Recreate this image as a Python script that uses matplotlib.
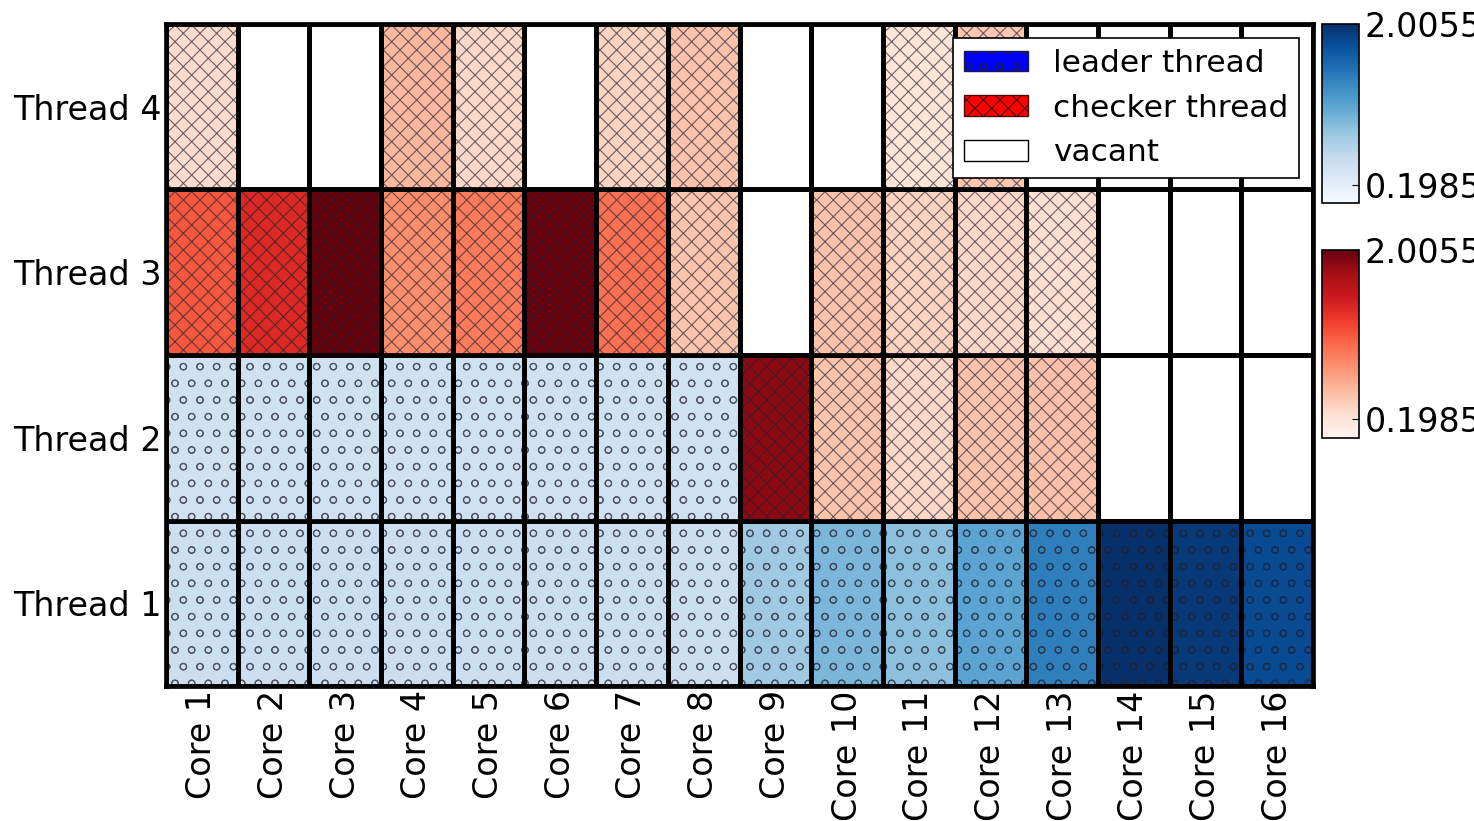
import numpy as np
import matplotlib
matplotlib.use("Agg")
import matplotlib.pyplot as plt
from matplotlib.colors import Normalize
from matplotlib.cm import ScalarMappable
from matplotlib.patches import Patch

nan = np.nan

cores = ["Core 1", "Core 2", "Core 3", "Core 4", "Core 5", "Core 6", "Core 7", "Core 8",
         "Core 9", "Core 10", "Core 11", "Core 12", "Core 13", "Core 14", "Core 15", "Core 16"]
threads = ["Thread 1", "Thread 2", "Thread 3", "Thread 4"]

# leader-thread load per core (NaN = no leader thread in that slot)
leader_t1 = [0.44, 0.44, 0.44, 0.44, 0.44, 0.44, 0.44, 0.44,
             0.75, 0.92, 0.84, 1.10, 1.40, 2.0055, 1.93, 1.80]
leader_t2 = [0.40, 0.40, 0.40, 0.40, 0.40, 0.40, 0.40, 0.40,
             nan, nan, nan, nan, nan, nan, nan, nan]
leader_t3 = [nan] * 16
leader_t4 = [nan] * 16

# checker-thread load per core (NaN = no checker thread in that slot)
checker_t1 = [nan] * 16
checker_t2 = [nan, nan, nan, nan, nan, nan, nan, nan,
              1.85, 0.44, 0.30, 0.45, 0.47, nan, nan, nan]
checker_t3 = [1.10, 1.38, 2.0055, 0.78, 0.90, 1.99, 0.96, 0.44,
              nan, 0.46, 0.34, 0.30, 0.26, nan, nan, nan]
checker_t4 = [0.28, nan, nan, 0.52, 0.30, nan, 0.34, 0.46,
              nan, nan, 0.1985, 0.42, nan, nan, nan, nan]

leader = [leader_t1, leader_t2, leader_t3, leader_t4]
checker = [checker_t1, checker_t2, checker_t3, checker_t4]

cbar_ticks = [0.1985, 2.0055]
norm = Normalize(vmin=0.0, vmax=2.0055)
blues = plt.get_cmap("Blues")
reds = plt.get_cmap("Reds")

plt.rcParams["hatch.linewidth"] = 0.8
FS = 24

fig = plt.figure(figsize=(14.74, 8.21), dpi=100)
ax = fig.add_axes([0.1126, 0.1644, 0.7782, 0.8064])

x = np.arange(len(cores))
hatch_col = (0.12, 0.12, 0.18, 0.65)

for row in range(len(threads)):
    for data, cmap, hatch in ((leader[row], blues, "o"), (checker[row], reds, "xx")):
        vals = np.asarray(data, dtype=float)
        idx = np.where(~np.isnan(vals))[0]
        if len(idx) == 0:
            continue
        ax.bar(x[idx], 1.0, bottom=row, width=1.0, align="edge",
               color=cmap(norm(vals[idx])), linewidth=0)
        ax.bar(x[idx], 1.0, bottom=row, width=1.0, align="edge",
               fill=False, hatch=hatch, edgecolor=hatch_col, linewidth=0)
    # cell borders for every slot, vacant ones included
    ax.bar(x, 1.0, bottom=row, width=1.0, align="edge",
           fill=False, edgecolor="black", linewidth=3.4)

ax.set_xlim(0, len(cores))
ax.set_ylim(0, len(threads))
ax.set_xticks(x + 0.5)
ax.set_xticklabels(cores, rotation=90, fontsize=FS)
ax.set_yticks(np.arange(len(threads)) + 0.5)
ax.set_yticklabels(threads, fontsize=FS)
ax.tick_params(length=0, pad=3)
for s in ax.spines.values():
    s.set_linewidth(3.4)

handles = [
    Patch(facecolor="blue", edgecolor=(0.1, 0.1, 0.3), hatch="o", linewidth=1, label="leader thread"),
    Patch(facecolor="red", edgecolor=(0.3, 0.05, 0.05), hatch="xx", linewidth=1, label="checker thread"),
    Patch(facecolor="white", edgecolor="black", linewidth=1, label="vacant"),
]
leg = ax.legend(handles=handles, loc="upper right", fontsize=22.5, fancybox=False,
                framealpha=1, edgecolor="black", handlelength=2.05, handleheight=0.65,
                handletextpad=0.8, labelspacing=0.5, borderpad=0.35,
                borderaxespad=0.45)
leg.get_frame().set_linewidth(1.2)

# colour scales for leader (top) and checker (bottom) threads
cax_b = fig.add_axes([0.8969, 0.7527, 0.0251, 0.2180])
cax_r = fig.add_axes([0.8969, 0.4665, 0.0251, 0.2290])
for cax, cmap in ((cax_b, blues), (cax_r, reds)):
    cb = fig.colorbar(ScalarMappable(norm=norm, cmap=cmap), cax=cax, ticks=cbar_ticks)
    cb.ax.set_yticklabels([f"{t:.4f}" for t in cbar_ticks])
    cb.ax.tick_params(labelsize=FS, direction="in", length=5, pad=4)
    cb.outline.set_linewidth(1.2)

fig.savefig("out.png", dpi=100)
